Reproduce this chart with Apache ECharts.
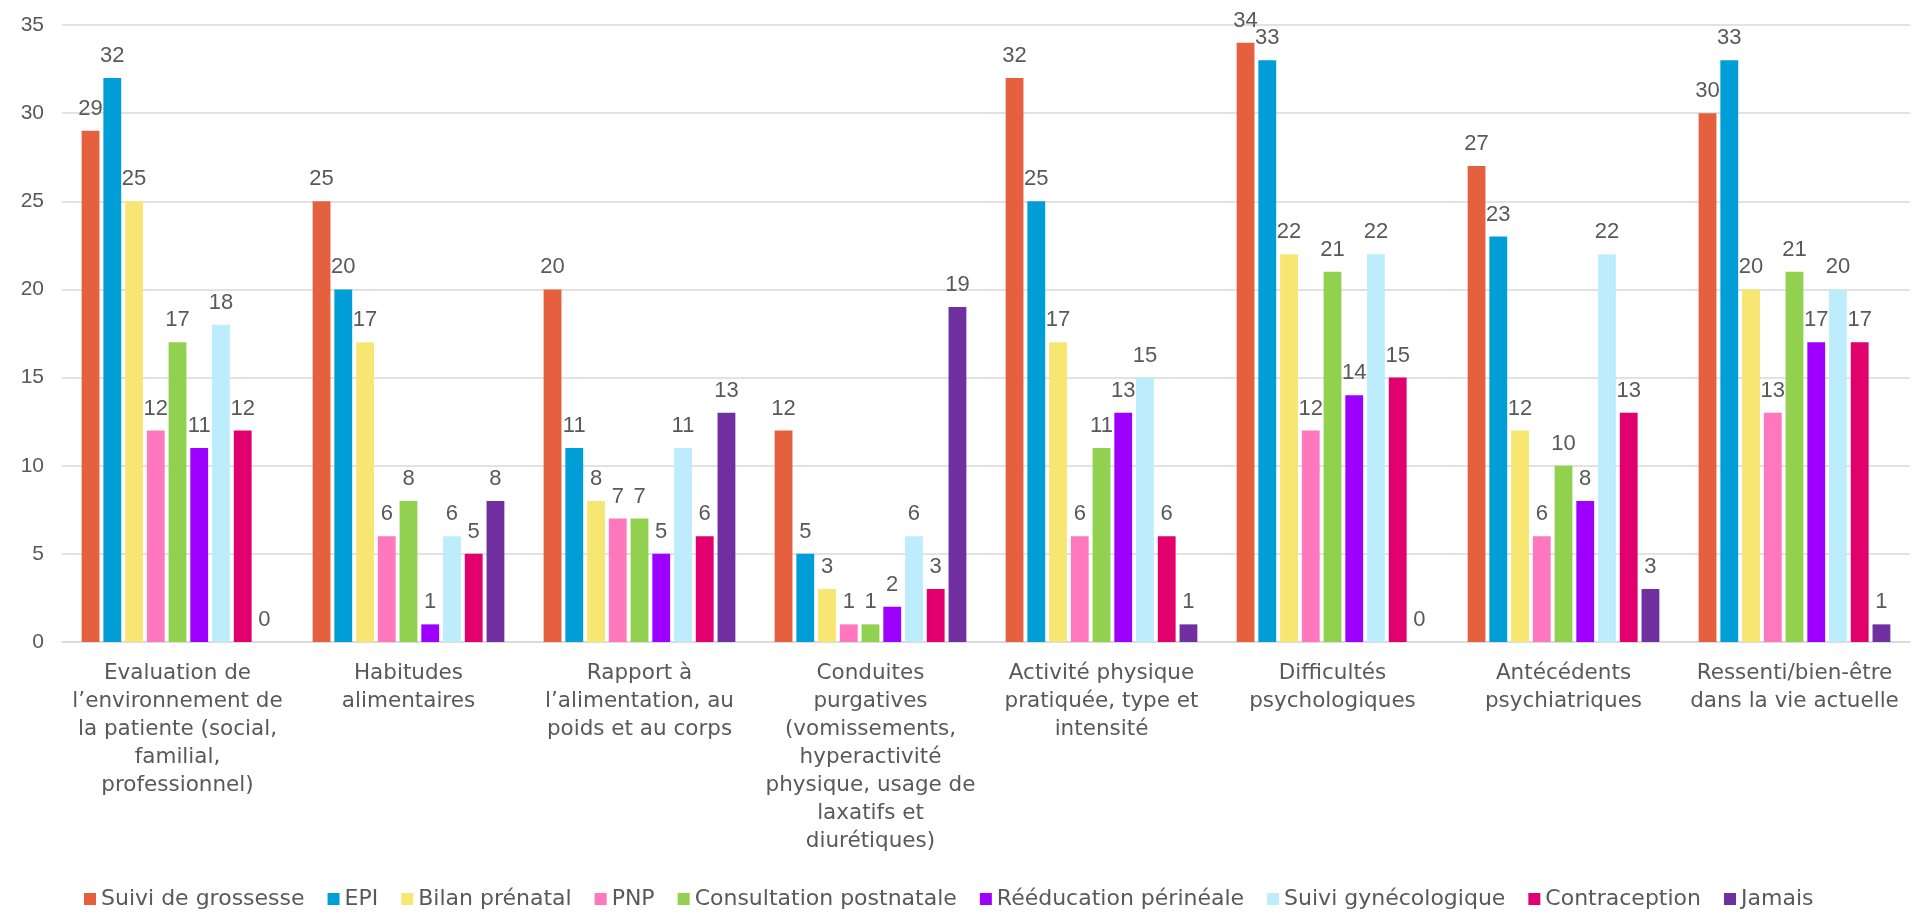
<!DOCTYPE html>
<html>
<head>
<meta charset="utf-8">
<script src="https://cdn.jsdelivr.net/npm/echarts@6/dist/echarts.min.js"></script>
<style>
  html, body { margin: 0; padding: 0; background: #fff; }
  #main { width: 1914px; height: 916px; }
</style>
</head>
<body>
<div id="main"></div>
<script>
// categories (line breaks as in the original)
var categories = [
    "Evaluation de\nl’environnement de\nla patiente (social,\nfamilial,\nprofessionnel)",
    "Habitudes\nalimentaires",
    "Rapport à\nl’alimentation, au\npoids et au corps",
    "Conduites\npurgatives\n(vomissements,\nhyperactivité\nphysique, usage de\nlaxatifs et\ndiurétiques)",
    "Activité physique\npratiquée, type et\nintensité",
    "Difficultés\npsychologiques",
    "Antécédents\npsychiatriques",
    "Ressenti/bien-être\ndans la vie actuelle"
];

var seriesNames = ["Suivi de grossesse", "EPI", "Bilan prénatal", "PNP", "Consultation postnatale",
    "Rééducation périnéale", "Suivi gynécologique", "Contraception", "Jamais"];

var suiviGrossesse   = [29, 25, 20, 12, 32, 34, 27, 30];
var epi              = [32, 20, 11, 5, 25, 33, 23, 33];
var bilanPrenatal    = [25, 17, 8, 3, 17, 22, 12, 20];
var pnp              = [12, 6, 7, 1, 6, 12, 6, 13];
var consultPostnat   = [17, 8, 7, 1, 11, 21, 10, 21];
var reeducation      = [11, 1, 5, 2, 13, 14, 8, 17];
var suiviGyneco      = [18, 6, 11, 6, 15, 22, 22, 20];
var contraception    = [12, 5, 6, 3, 6, 15, 13, 17];
var jamais           = [0, 8, 13, 19, 1, 0, 3, 1];

var yTicks = [0, 5, 10, 15, 20, 25, 30, 35];

var colors = ["#E4603E", "#009ED6", "#F7E672", "#FF77BC", "#92D050",
    "#9E00FF", "#BDEDFC", "#E2006E", "#7030A0"];

var allData = [suiviGrossesse, epi, bilanPrenatal, pnp, consultPostnat,
    reeducation, suiviGyneco, contraception, jamais];

var textColor = "#595959";
var numFont = "'Liberation Sans', sans-serif";
var wideFont = "'DejaVu Sans', sans-serif";

var series = [];
for (var i = 0; i < seriesNames.length; i++) {
    series.push({
        name: seriesNames[i],
        type: 'bar',
        data: allData[i],
        itemStyle: { color: colors[i] },
        barGap: '22%',
        barCategoryGap: '17%',
        label: {
            show: true,
            position: 'top',
            distance: 11,
            color: textColor,
            fontSize: 22,
            fontFamily: numFont
        }
    });
}

var myChart = echarts.init(document.getElementById('main'));
myChart.setOption({
    animation: false,
    grid: { left: 62, right: 4, top: 25, bottom: 274, containLabel: false },
    legend: {
        data: seriesNames,
        bottom: 1,
        left: 79,
        itemWidth: 12,
        itemHeight: 12,
        itemGap: 23,
        icon: 'rect',
        textStyle: { color: textColor, fontSize: 22, fontFamily: wideFont }
    },
    xAxis: {
        type: 'category',
        data: categories,
        axisTick: { show: false },
        axisLine: { lineStyle: { color: '#D9D9D9', width: 1.5 } },
        axisLabel: {
            interval: 0,
            color: textColor,
            fontSize: 21.5,
            lineHeight: 28,
            margin: 17,
            fontFamily: wideFont
        }
    },
    yAxis: {
        type: 'value',
        min: yTicks[0],
        max: yTicks[yTicks.length - 1],
        interval: 5,
        axisLine: { show: false },
        axisTick: { show: false },
        splitLine: { lineStyle: { color: '#D9D9D9', width: 1.5 } },
        axisLabel: { color: textColor, fontSize: 21, margin: 18, fontFamily: numFont }
    },
    series: series
});
</script>
</body>
</html>
